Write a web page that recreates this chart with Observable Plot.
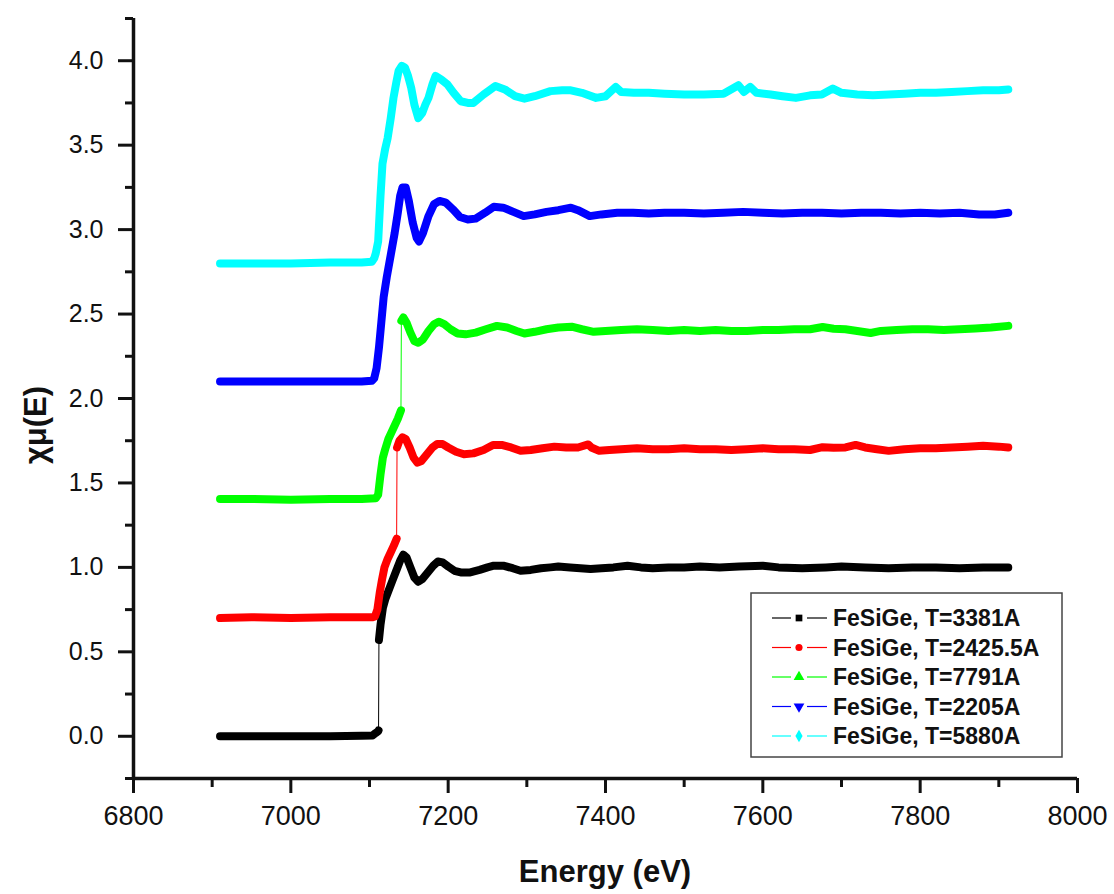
<!DOCTYPE html>
<html><head><meta charset="utf-8">
<script src="https://cdn.jsdelivr.net/npm/d3@7"></script>
<script src="https://cdn.jsdelivr.net/npm/@observablehq/plot@0.6"></script>
<style>
body{margin:0;background:#fff}
#chart svg{display:block}
</style></head><body><div id="chart"></div><script>
const seriesNames = ["FeSiGe, T=3381A","FeSiGe, T=2425.5A","FeSiGe, T=7791A","FeSiGe, T=2205A","FeSiGe, T=5880A"];
const seriesColors = ["#000000","#ff0000","#00ff00","#0000ff","#00ffff"];
const seriesSymbols = ["square","circle","triangle","triangle-down","diamond"];

const black = [[6910,0],[6950,0],[7000,0],[7050,0],[7090,0.003],[7104,0.005],[7108,0.02],[7111,0.03],[7111.5,0.035],
[7112,0.57],[7114,0.66],[7117,0.76],[7120,0.81],[7124,0.86],[7129,0.92],[7134,0.98],[7139,1.04],[7143,1.075],[7147,1.06],[7152,1.0],[7157,0.94],[7162,0.915],[7167,0.93],[7174,0.97],[7181,1.01],[7187,1.035],[7193,1.03],[7200,1.005],[7208,0.98],[7216,0.97],[7228,0.97],[7240,0.985],[7250,1.0],[7258,1.01],[7270,1.01],[7282,0.995],[7292,0.98],[7305,0.985],[7318,0.995],[7330,1.0],[7340,1.005],[7355,1.0],[7368,0.995],[7381,0.99],[7395,0.995],[7410,1.0],[7428,1.01],[7445,1.0],[7460,0.995],[7480,1.0],[7500,1.0],[7520,1.005],[7545,1.0],[7570,1.005],[7600,1.01],[7620,1.0],[7650,0.995],[7680,1.0],[7700,1.005],[7730,1.0],[7760,0.995],[7790,1.0],[7820,1.0],[7850,0.995],[7880,1.0],[7912,1.0]];

const red = [[6910,0.70],[6950,0.705],[7000,0.70],[7050,0.705],[7090,0.705],[7104,0.705],[7107,0.71],[7110,0.75],[7113,0.85],[7116,0.93],[7119,1.0],[7123,1.05],[7127,1.09],[7131,1.13],[7134.5,1.17],
[7135,1.71],[7138,1.75],[7142,1.77],[7146,1.76],[7151,1.71],[7156,1.65],[7161,1.62],[7166,1.63],[7173,1.67],[7180,1.71],[7186,1.73],[7193,1.73],[7200,1.71],[7210,1.685],[7220,1.67],[7232,1.675],[7245,1.695],[7257,1.725],[7268,1.725],[7280,1.71],[7292,1.69],[7305,1.695],[7320,1.705],[7335,1.715],[7350,1.71],[7365,1.71],[7378,1.728],[7382,1.71],[7392,1.69],[7405,1.695],[7420,1.70],[7440,1.705],[7460,1.70],[7480,1.70],[7500,1.705],[7520,1.70],[7540,1.70],[7560,1.695],[7580,1.70],[7600,1.705],[7620,1.70],[7640,1.70],[7660,1.695],[7676,1.712],[7690,1.708],[7705,1.71],[7718,1.725],[7730,1.71],[7745,1.70],[7760,1.69],[7780,1.70],[7800,1.705],[7820,1.705],[7840,1.71],[7860,1.715],[7880,1.72],[7900,1.715],[7912,1.71]];

const green = [[6910,1.405],[6950,1.405],[7000,1.40],[7050,1.405],[7090,1.405],[7108,1.41],[7111,1.43],[7114,1.55],[7117,1.65],[7120,1.70],[7124,1.76],[7128,1.80],[7132,1.84],[7136,1.88],[7140,1.93],
[7140.5,2.46],[7143,2.48],[7147,2.45],[7152,2.39],[7157,2.34],[7162,2.33],[7168,2.35],[7175,2.40],[7182,2.44],[7188,2.455],[7195,2.44],[7203,2.41],[7212,2.385],[7222,2.38],[7235,2.39],[7248,2.41],[7262,2.43],[7275,2.42],[7287,2.40],[7297,2.385],[7310,2.395],[7325,2.41],[7340,2.42],[7357,2.425],[7370,2.41],[7385,2.395],[7400,2.40],[7420,2.405],[7440,2.41],[7460,2.405],[7480,2.40],[7500,2.405],[7520,2.40],[7540,2.405],[7560,2.40],[7580,2.40],[7600,2.405],[7620,2.405],[7640,2.41],[7660,2.41],[7676,2.423],[7690,2.413],[7705,2.41],[7720,2.40],[7737,2.388],[7750,2.40],[7770,2.405],[7790,2.41],[7810,2.41],[7830,2.405],[7850,2.41],[7870,2.415],[7890,2.42],[7912,2.43]];

const blue = [[6910,2.10],[6950,2.10],[7000,2.10],[7050,2.10],[7090,2.10],[7103,2.105],[7106,2.12],[7109,2.18],[7112,2.30],[7115,2.45],[7118,2.60],[7122,2.72],[7127,2.85],[7132,2.98],[7136,3.10],[7139,3.20],[7142,3.25],[7146,3.25],[7150,3.17],[7155,3.04],[7160,2.95],[7163,2.93],[7168,2.98],[7175,3.08],[7182,3.15],[7189,3.17],[7197,3.16],[7206,3.12],[7215,3.075],[7225,3.06],[7235,3.065],[7247,3.10],[7258,3.135],[7270,3.13],[7283,3.105],[7296,3.08],[7310,3.09],[7325,3.105],[7340,3.115],[7356,3.13],[7365,3.115],[7380,3.08],[7395,3.09],[7415,3.10],[7435,3.10],[7455,3.095],[7475,3.10],[7500,3.10],[7525,3.095],[7550,3.10],[7575,3.105],[7600,3.10],[7625,3.095],[7650,3.10],[7675,3.10],[7700,3.095],[7725,3.10],[7750,3.10],[7775,3.095],[7800,3.10],[7825,3.095],[7850,3.10],[7875,3.09],[7895,3.09],[7912,3.10]];

const cyan = [[6910,2.80],[6950,2.80],[7000,2.80],[7050,2.805],[7090,2.805],[7103,2.81],[7106,2.83],[7108,2.86],[7111,2.93],[7114,3.20],[7116.5,3.39],[7120,3.48],[7123,3.54],[7127,3.66],[7130.5,3.78],[7134,3.87],[7137,3.94],[7141,3.97],[7145,3.96],[7149,3.91],[7153,3.84],[7157,3.74],[7162,3.66],[7167,3.69],[7171,3.74],[7175,3.78],[7180,3.86],[7184,3.91],[7191,3.89],[7199,3.86],[7207,3.81],[7216,3.76],[7225,3.75],[7232,3.75],[7245,3.80],[7260,3.85],[7272,3.83],[7285,3.79],[7297,3.775],[7310,3.79],[7330,3.82],[7345,3.825],[7356,3.825],[7370,3.81],[7388,3.78],[7400,3.79],[7413,3.845],[7420,3.815],[7436,3.81],[7455,3.81],[7475,3.805],[7500,3.80],[7525,3.80],[7550,3.805],[7569,3.855],[7576,3.815],[7584,3.845],[7592,3.81],[7610,3.80],[7625,3.79],[7642,3.78],[7660,3.795],[7675,3.80],[7689,3.835],[7700,3.81],[7720,3.80],[7740,3.795],[7760,3.80],[7780,3.805],[7800,3.81],[7820,3.81],[7840,3.815],[7860,3.82],[7880,3.825],[7900,3.825],[7912,3.83]];

const seriesData = [black, red, green, blue, cyan];
// last energy before a one-step jump (drawn only by the thin connecting line)
const jumpAfter = [7111.5, 7134.5, 7140, null, null];

const xMajorTicks = [6800,7000,7200,7400,7600,7800,8000];
const xMinorTicks = [6900,7100,7300,7500,7700,7900];
const yMajorTicks = [0,0.5,1.0,1.5,2.0,2.5,3.0,3.5,4.0];
const yMinorTicks = [-0.25,0.25,0.75,1.25,1.75,2.25,2.75,3.25,3.75,4.25];

const rows = [];
seriesData.forEach((arr, i) => {
  arr.forEach(([E, mu]) => rows.push({
    series: seriesNames[i], E, mu,
    seg: (jumpAfter[i] != null && E > jumpAfter[i]) ? 1 : 0
  }));
});

const font = "'Liberation Sans', Arial, sans-serif";
const plot = Plot.plot({
  width: 1114, height: 894,
  marginLeft: 133, marginRight: 37, marginTop: 18, marginBottom: 116,
  x: {domain: [6800, 8000]},
  y: {domain: [-0.25, 4.25]},
  color: {domain: seriesNames, range: seriesColors},
  style: {fontFamily: font, background: "#fff", color: "#111", overflow: "visible"},
  marks: [
    Plot.line(rows, {x: "E", y: "mu", z: "series", stroke: "series", strokeWidth: 1}),
    Plot.line(rows, {x: "E", y: "mu", z: d => d.series + "|" + d.seg, stroke: "series", strokeWidth: 8, strokeLinejoin: "round", strokeLinecap: "round"}),
    Plot.axisX({ticks: xMajorTicks, tickSize: 15, tickPadding: 12, fontSize: 27, label: null, strokeWidth: 3, tickFormat: d => String(d)}),
    Plot.axisX({ticks: xMinorTicks, tickSize: 9, text: null, label: null, strokeWidth: 3}),
    Plot.axisY({ticks: yMajorTicks, tickSize: 15, tickPadding: 15, fontSize: 25, label: null, strokeWidth: 3, tickFormat: d3.format(".1f")}),
    Plot.axisY({ticks: yMinorTicks, tickSize: 8, text: null, label: null, strokeWidth: 3}),
    Plot.ruleX([6800], {strokeWidth: 3.5}),
    Plot.ruleY([-0.25], {strokeWidth: 3.5})
  ]
});
document.getElementById("chart").appendChild(plot);

const svg = d3.select(plot);

// axis titles
svg.append("text").attr("x", 605).attr("y", 882).attr("text-anchor", "middle")
  .attr("font-family", font).style("font-size", "31px").attr("font-weight", "bold").attr("fill", "#111")
  .text("Energy (eV)");
svg.append("text").attr("transform", "translate(46,425) rotate(-90)").attr("text-anchor", "middle")
  .attr("font-family", font).style("font-size", "31px").attr("font-weight", "bold").attr("fill", "#111")
  .text("χμ(E)");

// legend
const lg = svg.append("g").attr("text-anchor", "start");
lg.append("rect").attr("x", 751).attr("y", 593).attr("width", 311).attr("height", 164)
  .attr("fill", "#fff").attr("stroke", "#444").attr("stroke-width", 1.5);
const symMap = {square: d3.symbolSquare, circle: d3.symbolCircle, triangle: d3.symbolTriangle, diamond: d3.symbolDiamond};
seriesNames.forEach((name, i) => {
  const y = 618 + i * 29.5;
  const c = seriesColors[i];
  lg.append("line").attr("x1", 772).attr("x2", 791).attr("y1", y).attr("y2", y).attr("stroke", c).attr("stroke-width", 1.2);
  lg.append("line").attr("x1", 807).attr("x2", 827).attr("y1", y).attr("y2", y).attr("stroke", c).attr("stroke-width", 1.2);
  const s = seriesSymbols[i];
  const gen = s === "triangle-down" ? d3.symbolTriangle : symMap[s];
  const size = s === "square" ? 45 : s === "circle" ? 40 : s === "diamond" ? 45 : 50;
  lg.append("path").attr("d", d3.symbol(gen, size)())
    .attr("transform", `translate(799,${y})` + (s === "triangle-down" ? " rotate(180)" : ""))
    .attr("fill", c);
  lg.append("text").attr("x", 833).attr("y", y).attr("dy", "0.36em").attr("text-anchor", "start")
    .attr("font-family", font).style("font-size", "23px").attr("font-weight", "bold").attr("fill", "#111")
    .text(name);
});
</script></body></html>
